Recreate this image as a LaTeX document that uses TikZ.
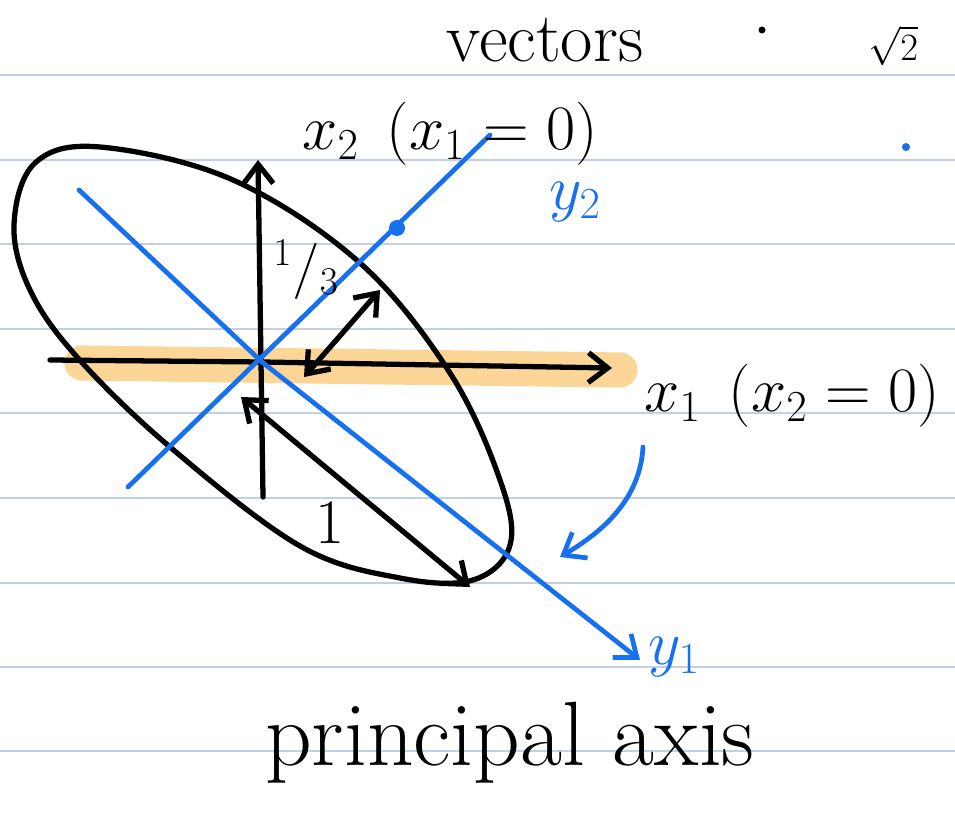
\RequirePackage{fix-cm}
\documentclass[tikz,border=0pt]{standalone}
\usepackage{xcolor}
\usetikzlibrary{arrows.meta}

\definecolor{penblue}{RGB}{22,112,240}
\definecolor{hiorange}{RGB}{251,214,150}
\definecolor{ruleblue}{RGB}{196,207,228}

\tikzset{
    pen/.style={line width=3pt, line cap=round, line join=round},
    bluepen/.style={pen, draw=penblue, line width=2.7pt},
    barb/.style={-{Straight Barb[length=11pt,width=17pt]}},
    twobarb/.style={{Straight Barb[length=11pt,width=17pt]}-{Straight Barb[length=11pt,width=17pt]}},
    ruleline/.style={draw=ruleblue, line width=1pt},
    handtext/.style={inner sep=0pt, font=\fontsize{36}{40}\selectfont},
    bluetext/.style={handtext, text=penblue}
}

\begin{document}
\begin{tikzpicture}[x=0.02cm, y=-0.02cm]
    \useasboundingbox (0,0) rectangle (955,813);

    % ruled paper
    \foreach \yy in {75,160,244,329,413,498,583,667,751}
        \draw[ruleline] (0,\yy) -- (955,\yy);

    % points
    \coordinate (o) at (262,362);
    \coordinate (x1w) at (50,360);
    \coordinate (x1e) at (612,368);
    \coordinate (x2s) at (263,497);
    \coordinate (x2n) at (258,160);
    \coordinate (y2s) at (128,487);
    \coordinate (y2n) at (490,135);
    \coordinate (y1n) at (79,190);
    \coordinate (y1s) at (640,660);
    \coordinate (thirdA) at (304,377);
    \coordinate (thirdB) at (380,290);
    \coordinate (oneA) at (241,397);
    \coordinate (oneB) at (470,587);
    \coordinate (turnA) at (643,447);
    \coordinate (turnB) at (560,557);

    % highlight of x1 axis
    \draw[hiorange, line width=20pt, line cap=round] (82,363) -- (620,370);

    % ellipse
    \draw[pen] plot[smooth cycle, tension=0.6] coordinates {
        (14,225) (35,163) (100,147) (233,180) (360,263) (450,373)
        (500,480) (510,545) (473,580) (400,578) (300,546) (170,447)
        (77,357) (30,290)};

    % x axes
    \draw[pen, barb] (x1w) -- (o) -- (x1e);
    \draw[pen, barb] (x2s) -- (x2n);

    % half axes
    \draw[pen, twobarb] (thirdA) -- (thirdB);
    \draw[pen, twobarb] (oneA) -- (oneB);

    % principal axes
    \draw[bluepen] (y2s) -- (y2n);
    \draw[bluepen, barb] (y1n) -- (o) -- (y1s);
    \fill[penblue] (397,228) circle (8);
    \draw[bluepen, barb] (turnA) .. controls (640,500) and (602,532) .. (turnB);

    % pen dots
    \fill (762,30) circle (3.5);
    \fill[penblue] (906,147) circle (4);

    % labels
    \node[handtext, font=\fontsize{40}{44}\selectfont, anchor=base] (vec) at (545,62) {vectors};
    \node[handtext, font=\fontsize{22}{24}\selectfont] (rt) at (893,46) {$\sqrt{2}$};
    \node[handtext] (x2lbl) at (450,134) {$x_2\;\,(x_1=0)$};
    \node[handtext] (x1lbl) at (792,396) {$x_1\;\,(x_2=0)$};
    \node[bluetext] (y2lbl) at (575,202) {$y_2$};
    \node[bluetext] (y1lbl) at (674,657) {$y_1$};
    \node[handtext, font=\fontsize{32}{36}\selectfont] (third) at (306,270) {${}^1/{}_3$};
    \node[handtext] (one) at (330,523) {$1$};
    \node[handtext, font=\fontsize{52}{56}\selectfont, anchor=base] (pa) at (510,765) {principal axis};
\end{tikzpicture}
\end{document}
